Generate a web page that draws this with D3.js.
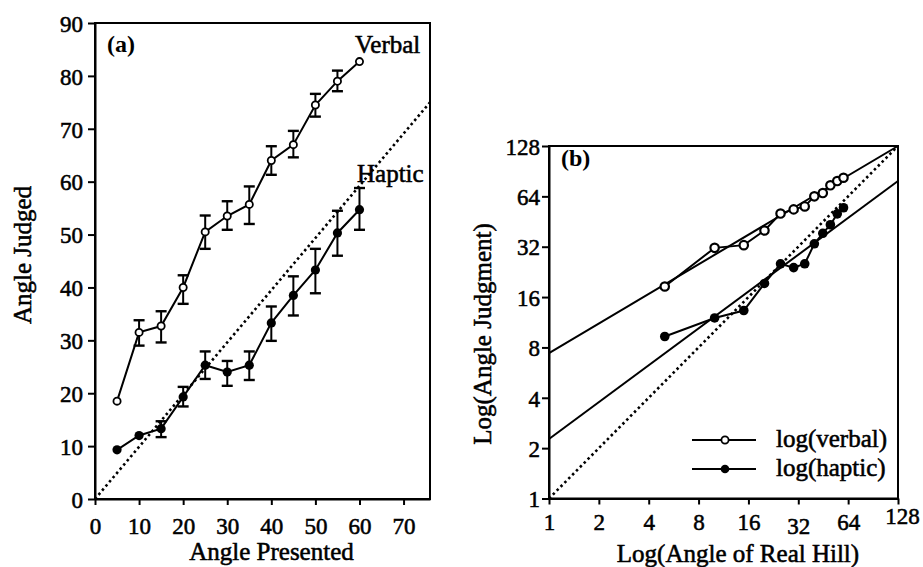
<!DOCTYPE html>
<html>
<head>
<meta charset="utf-8">
<script src="https://cdn.jsdelivr.net/npm/d3@7"></script>
<style>
  html, body { margin: 0; padding: 0; background: #fff; }
  svg text { font-family: "Liberation Serif", "Times New Roman", serif !important; fill: #000; }
</style>
</head>
<body>
<svg id="chart" width="923" height="567"></svg>
<script>
// ---------- data ----------
const anglesPresented = [5, 10, 15, 20, 25, 30, 35, 40, 45, 50, 55, 60];
const verbalMean  = [18.5, 31.5, 32.7, 40, 50.5, 53.5, 55.7, 64, 67, 74.5, 79, 82.7];
const verbalLow   = [null, 29.0, 29.6, 36.9, 47.3, 50.9, 52.0, 61.3, 64.6, 72.3, 77.1, null];
const verbalHigh  = [null, 33.8, 35.5, 42.3, 53.6, 56.3, 59.1, 66.7, 69.6, 76.6, 81.0, null];
const hapticMean  = [9.3, 12, 13.3, 19.3, 25.3, 24, 25.3, 33.3, 38.5, 43.3, 50.3, 54.7];
const hapticLow   = [null, null, 11.7, 17.5, 22.7, 21.4, 22.5, 29.9, 34.7, 38.9, 46.0, 50.9];
const hapticHigh  = [null, null, 14.7, 21.2, 27.9, 26.1, 27.9, 36.4, 42.1, 47.3, 54.5, 58.8];

const xTicksA = [0, 10, 20, 30, 40, 50, 60, 70];
const yTicksA = [0, 10, 20, 30, 40, 50, 60, 70, 80, 90];
const logTicks = [1, 2, 4, 8, 16, 32, 64, 128];

// identity reference lines and fitted power-law lines (endpoints)
const identityA = [[0, 0], [76, 75]];
const identityB = [[1, 1], [128, 128]];
const verbalFit = [[1, 7.4], [128, 128]];
const hapticFit = [[1, 2.27], [128, 79]];

const legendLabels = ["log(verbal)", "log(haptic)"];

// ---------- setup ----------
const svg = d3.select("#chart");
const FONT = '"Liberation Serif", "Times New Roman", serif';
const FS_TICK = 23, FS_TITLE = 25;
const TXT_STROKE = 0.55;

function thick(sel) {
  return sel.style("font-family", FONT).attr("stroke", "#000").attr("stroke-width", TXT_STROKE);
}

// ================= Panel (a) =================
const A = { left: 95, right: 430, top: 23, bottom: 499 };
const xA = d3.scaleLinear().domain([0, 76]).range([A.left, A.right]);
const yA = d3.scaleLinear().domain([0, 90]).range([A.bottom, A.top]);

const gA = svg.append("g");

gA.append("rect").attr("x", A.left).attr("y", A.top)
  .attr("width", A.right - A.left).attr("height", A.bottom - A.top)
  .attr("fill", "none").attr("stroke", "#000").attr("stroke-width", 2);

const axA_x = gA.append("g").attr("transform", `translate(0,${A.bottom})`)
  .call(d3.axisBottom(xA).tickValues(xTicksA).tickSize(6).tickPadding(13).tickSizeOuter(0));
const axA_y = gA.append("g").attr("transform", `translate(${A.left},0)`)
  .call(d3.axisLeft(yA).tickValues(yTicksA).tickSize(7).tickPadding(5).tickSizeOuter(0));
[axA_x, axA_y].forEach(ax => {
  ax.attr("font-family", FONT);
  ax.select(".domain").attr("stroke", "#000").attr("stroke-width", 2);
  ax.selectAll(".tick line").attr("stroke", "#000").attr("stroke-width", 2);
  thick(ax.selectAll(".tick text").attr("font-size", FS_TICK));
});
axA_y.selectAll(".tick text").attr("dy", "0.36em");

gA.append("line")
  .attr("x1", xA(identityA[0][0])).attr("y1", yA(identityA[0][1]))
  .attr("x2", xA(identityA[1][0])).attr("y2", yA(identityA[1][1]))
  .attr("stroke", "#000").attr("stroke-width", 2.6).attr("stroke-dasharray", "2.5,3");

const lineA = d3.line().x(d => xA(d[0])).y(d => yA(d[1]));
const verbalPts = anglesPresented.map((a, i) => [a, verbalMean[i]]);
const hapticPts = anglesPresented.map((a, i) => [a, hapticMean[i]]);

function errorBars(g, lows, highs) {
  anglesPresented.forEach((a, i) => {
    if (lows[i] == null) return;
    const cx = xA(a), cap = 5.5;
    const yl = yA(lows[i]), yh = yA(highs[i]);
    g.append("line").attr("x1", cx).attr("x2", cx).attr("y1", yh).attr("y2", yl)
      .attr("stroke", "#000").attr("stroke-width", 2);
    g.append("line").attr("x1", cx - cap).attr("x2", cx + cap).attr("y1", yh).attr("y2", yh)
      .attr("stroke", "#000").attr("stroke-width", 2.4);
    g.append("line").attr("x1", cx - cap).attr("x2", cx + cap).attr("y1", yl).attr("y2", yl)
      .attr("stroke", "#000").attr("stroke-width", 2.4);
  });
}
errorBars(gA, verbalLow, verbalHigh);
errorBars(gA, hapticLow, hapticHigh);

gA.append("path").attr("d", lineA(verbalPts)).attr("fill", "none")
  .attr("stroke", "#000").attr("stroke-width", 2);
gA.append("path").attr("d", lineA(hapticPts)).attr("fill", "none")
  .attr("stroke", "#000").attr("stroke-width", 2);

gA.selectAll(".vpt").data(verbalPts).enter().append("circle")
  .attr("cx", d => xA(d[0])).attr("cy", d => yA(d[1])).attr("r", 3.6)
  .attr("fill", "#fff").attr("stroke", "#000").attr("stroke-width", 1.8);
gA.selectAll(".hpt").data(hapticPts).enter().append("circle")
  .attr("cx", d => xA(d[0])).attr("cy", d => yA(d[1])).attr("r", 4.6)
  .attr("fill", "#000");

gA.append("text").attr("x", 107).attr("y", 52).attr("font-size", 24)
  .style("font-family", FONT).attr("font-weight", "bold").text("(a)");
thick(gA.append("text").attr("x", 355).attr("y", 53).attr("font-size", FS_TITLE).text("Verbal"));
thick(gA.append("text").attr("x", 357).attr("y", 182).attr("font-size", FS_TITLE).text("Haptic"));

thick(gA.append("text").attr("x", (A.left + A.right) / 2 + 9).attr("y", 560)
  .attr("text-anchor", "middle").attr("font-size", FS_TITLE).text("Angle Presented"));
thick(gA.append("text").attr("transform", "translate(31,255) rotate(-90)")
  .attr("text-anchor", "middle").attr("font-size", FS_TITLE).text("Angle Judged"));

// ================= Panel (b) =================
const B = { left: 549, right: 898, top: 146, bottom: 498.5 };
const xB = d3.scaleLog().base(2).domain([1, 128]).range([B.left, B.right]);
const yB = d3.scaleLog().base(2).domain([1, 128]).range([B.bottom, B.top]);
const gB = svg.append("g");

gB.append("rect").attr("x", B.left).attr("y", B.top)
  .attr("width", B.right - B.left).attr("height", B.bottom - B.top)
  .attr("fill", "none").attr("stroke", "#000").attr("stroke-width", 2);

const axB_x = gB.append("g").attr("transform", `translate(0,${B.bottom})`)
  .call(d3.axisBottom(xB).tickValues(logTicks).tickFormat(d3.format("d"))
    .tickSize(6).tickPadding(9).tickSizeOuter(0));
const axB_y = gB.append("g").attr("transform", `translate(${B.left},0)`)
  .call(d3.axisLeft(yB).tickValues(logTicks).tickFormat(d3.format("d"))
    .tickSize(7).tickPadding(2).tickSizeOuter(0));
[axB_x, axB_y].forEach(ax => {
  ax.attr("font-family", FONT);
  ax.select(".domain").attr("stroke", "#000").attr("stroke-width", 2);
  ax.selectAll(".tick line").attr("stroke", "#000").attr("stroke-width", 2);
  thick(ax.selectAll(".tick text").attr("font-size", FS_TICK));
});
axB_y.selectAll(".tick text").attr("dy", "0.36em");
axB_x.selectAll(".tick text")
  .attr("transform", d => d === 32 ? "translate(0,4)" : d === 128 ? "translate(4,-6)" : null);

const lineB = d3.line().x(d => xB(d[0])).y(d => yB(d[1]));

gB.append("path").attr("d", lineB(identityB)).attr("fill", "none")
  .attr("stroke", "#000").attr("stroke-width", 2.6).attr("stroke-dasharray", "2.5,3");
gB.append("path").attr("d", lineB(verbalFit)).attr("fill", "none")
  .attr("stroke", "#000").attr("stroke-width", 2);
gB.append("path").attr("d", lineB(hapticFit)).attr("fill", "none")
  .attr("stroke", "#000").attr("stroke-width", 2);

gB.append("path").attr("d", lineB(verbalPts)).attr("fill", "none")
  .attr("stroke", "#000").attr("stroke-width", 2);
gB.append("path").attr("d", lineB(hapticPts)).attr("fill", "none")
  .attr("stroke", "#000").attr("stroke-width", 2);

gB.selectAll(".vptb").data(verbalPts).enter().append("circle")
  .attr("cx", d => xB(d[0])).attr("cy", d => yB(d[1])).attr("r", 4.2)
  .attr("fill", "#fff").attr("stroke", "#000").attr("stroke-width", 2.2);
gB.selectAll(".hptb").data(hapticPts).enter().append("circle")
  .attr("cx", d => xB(d[0])).attr("cy", d => yB(d[1])).attr("r", 4.8)
  .attr("fill", "#000");

gB.append("text").attr("x", 561).attr("y", 166).attr("font-size", 24)
  .style("font-family", FONT).attr("font-weight", "bold").text("(b)");

const legY = [440, 469];
legendLabels.forEach((lab, i) => {
  gB.append("line").attr("x1", 692).attr("x2", 756).attr("y1", legY[i]).attr("y2", legY[i])
    .attr("stroke", "#000").attr("stroke-width", 2);
  if (i === 0) {
    gB.append("circle").attr("cx", 725).attr("cy", legY[i]).attr("r", 3.6)
      .attr("fill", "#fff").attr("stroke", "#000").attr("stroke-width", 1.8);
  } else {
    gB.append("circle").attr("cx", 725).attr("cy", legY[i]).attr("r", 4.3).attr("fill", "#000");
  }
  thick(gB.append("text").attr("x", 776).attr("y", legY[i] + 7).attr("font-size", FS_TITLE).text(lab));
});

thick(gB.append("text").attr("x", 738).attr("y", 562)
  .attr("text-anchor", "middle").attr("font-size", FS_TITLE).text("Log(Angle of Real Hill)"));
thick(gB.append("text").attr("transform", "translate(491,334) rotate(-90)")
  .attr("text-anchor", "middle").attr("font-size", FS_TITLE).text("Log(Angle Judgment)"));
</script>
</body>
</html>
